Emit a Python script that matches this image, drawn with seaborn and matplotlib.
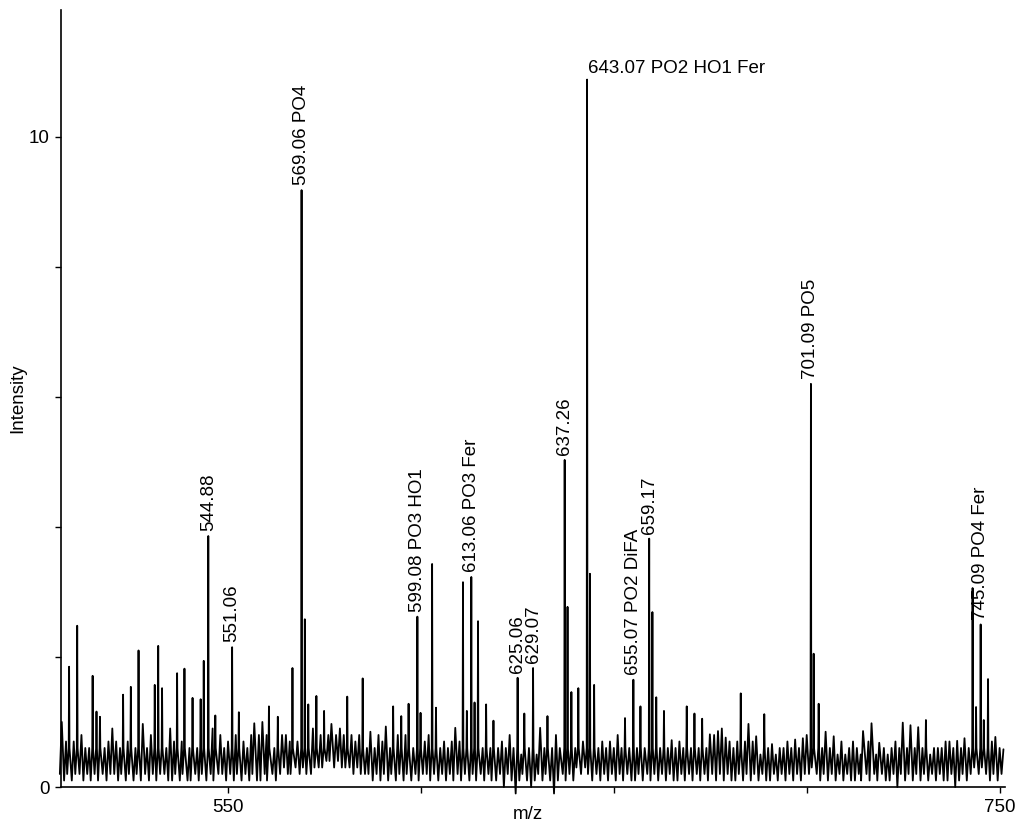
import numpy as np
import pandas as pd
import matplotlib
matplotlib.use('Agg')
import matplotlib.pyplot as plt
import seaborn as sns

# nominal masses covered by the trace
mass_first = 507
mass_last = 751

# baseline noise tops, one digit per nominal mass (value = digit / 10)
noise_tops = ("7787786678" "8679768786" "7868778697" "8786767879" "7867786768"
              "7868767887" "8788897878" "8898787876" "7687767868" "7686787767"
              "6787687876" "7686768675" "7685767686" "8786878776" "7676867676"
              "7686767656" "7676767667" "6767676767" "6566756676" "7678767676"
              "6575676567" "6576567676" "7676756667" "7676767676" "67665")

# valleys before each nominal mass (value = (digit - 1) / 10)
noise_floors = ("3232332323" "2323323232" "3232323322" "3232232323" "2332323232"
                "3223232343" "3434334445" "5454443433" "3232323232" "3232332323"
                "2323232323" "2322313202" "3212323202" "3232434323" "2323232322"
                "3232323232" "2323232323" "2323223232" "3232232323" "2323343232"
                "3232322323" "2323223132" "3232323232" "2312323434" "32323")

# unlabelled peaks that stand out of the noise
peak_mz = [506.9, 508.8, 510.9, 514.9, 515.9, 516.8, 522.8, 524.8, 526.8, 527.9,
           531.0, 531.9, 532.9, 536.8, 538.7, 540.8, 542.9, 543.7, 546.7, 552.8,
           556.8, 558.9, 560.6, 562.9, 566.7, 569.9, 570.8, 572.9, 574.9, 576.8,
           580.9, 584.9, 586.9, 590.9, 592.8, 594.9, 596.8, 599.9, 602.9, 603.9,
           608.9, 610.9, 611.9, 613.9, 614.8, 616.9, 618.8, 626.8, 630.9, 632.8,
           638.0, 639.0, 640.8, 643.8, 644.9, 652.9, 656.9, 660.0, 661.0, 663.0,
           665.0, 668.9, 670.9, 672.9, 674.9, 676.0, 677.0, 678.0, 679.0, 682.9,
           684.9, 686.9, 689.0, 691.0, 697.0, 699.0, 701.8, 703.1, 704.9, 707.0,
           714.6, 716.8, 718.8, 724.9, 726.9, 728.9, 730.9, 739.0, 740.9, 743.0,
           743.9, 745.9, 747.0, 748.0, 748.9, 751.0]
peak_int = [1.0, 1.85, 2.48, 1.71, 1.16, 1.08, 1.42, 1.54, 2.1, 0.97,
            1.57, 2.17, 1.52, 1.75, 1.82, 1.37, 1.35, 1.94, 1.1, 1.15,
            0.98, 1.0, 1.24, 1.08, 1.83, 2.58, 1.27, 1.4, 1.17, 0.97,
            1.39, 1.67, 0.85, 0.93, 1.24, 1.09, 1.28, 1.14, 3.43, 1.22,
            0.91, 3.15, 1.17, 1.3, 2.55, 1.27, 1.02, 1.13, 0.91, 1.09,
            2.77, 1.46, 1.52, 3.28, 1.57, 1.06, 1.24, 2.69, 1.38, 1.17,
            0.72, 1.24, 1.13, 1.05, 0.81, 0.8, 0.86, 0.9, 0.76, 1.44,
            0.97, 0.78, 1.12, 0.66, 0.73, 0.75, 2.05, 1.28, 0.85, 0.78,
            0.86, 0.98, 0.68, 0.99, 0.95, 0.92, 1.03, 0.71, 0.75, 3.06,
            1.23, 1.03, 1.66, 0.7, 0.77, 0.58]

# annotated peaks
label_mz = [544.88, 551.06, 569.06, 599.08, 613.06, 625.06, 629.07, 637.26,
            643.07, 655.07, 659.17, 701.09, 745.09]
label_int = [3.86, 2.15, 9.18, 2.62, 3.23, 1.68, 1.83, 5.03,
             10.88, 1.65, 3.82, 6.2, 2.5]
label_text = ['544.88', '551.06', '569.06 PO4', '599.08 PO3 HO1', '613.06 PO3 Fer',
              '625.06', '629.07', '637.26', '643.07 PO2 HO1 Fer', '655.07 PO2 DiFA',
              '659.17', '701.09 PO5', '745.09 PO4 Fer']

x_ticks = [550, 600, 650, 700, 750]
x_ticklabels = ['550', '', '', '', '750']
y_ticks = [0, 2, 4, 6, 8, 10]
y_ticklabels = ['0', '', '', '', '', '10']

# build the profile trace: one sharp peak per nominal mass
masses = np.arange(mass_first, mass_last + 1)
pos = masses.astype(float)
top = np.array([int(c) / 10 for c in noise_tops])
floor = np.array([(int(c) - 1) / 10 for c in noise_floors])
for mz, h in zip(peak_mz + label_mz, peak_int + label_int):
    i = int(round(mz)) - mass_first
    pos[i] = mz
    top[i] = h

xs, ys = [], []
for p, t, f in zip(pos, top, floor):
    if t > 1.0:
        # tall peaks rise almost vertically out of the noise
        xs += [p - 0.5, p - 0.1, p, p + 0.1]
        ys += [f, 0.6, t, 0.6]
    else:
        xs += [p - 0.5, p]
        ys += [f, t]
df = pd.DataFrame({'mz': xs, 'intensity': ys})

sns.set_theme(style='ticks')
plt.rcParams['font.family'] = ['Liberation Sans', 'DejaVu Sans']
plt.rcParams['font.size'] = 13.5
plt.rcParams['text.color'] = 'black'
plt.rcParams['axes.labelcolor'] = 'black'

fig = plt.figure(figsize=(10.19, 8.23), dpi=100)
ax = fig.add_axes([61 / 1019, 1 - 787 / 823, 944 / 1019, 777 / 823])

sns.lineplot(data=df, x='mz', y='intensity', estimator=None, sort=False,
             color='black', linewidth=1.3, ax=ax, clip_on=False)

for mz, h, txt in zip(label_mz, label_int, label_text):
    if h > 10:
        ax.annotate(txt, xy=(mz, h), xytext=(0.5, 2), textcoords='offset points',
                    ha='left', va='bottom', fontsize=13.5, color='black')
    else:
        ax.annotate(txt, xy=(mz, h), xytext=(0, 3.5), textcoords='offset points',
                    rotation=90, ha='center', va='bottom', fontsize=13.5, color='black')

ax.set_xlim(506.7, 751.4)
ax.set_ylim(0, 11.95)
ax.set_xticks(x_ticks)
ax.set_xticklabels(x_ticklabels)
ax.set_yticks(y_ticks)
ax.set_yticklabels(y_ticklabels)
ax.tick_params(axis='both', direction='out', length=4.3, width=1.0, color='black',
               labelsize=13.5, labelcolor='black', pad=4)
for side in ['left', 'bottom']:
    ax.spines[side].set_color('black')
    ax.spines[side].set_linewidth(1.2)
sns.despine(ax=ax)

ax.set_xlabel('m/z', fontsize=13.5, color='black')
ax.set_ylabel('Intensity', fontsize=13.5, color='black')
ax.xaxis.set_label_coords(0.4947, -0.036)
ax.xaxis.label.set_va('center')
ax.yaxis.set_label_coords(-0.0455, 0.5)
ax.yaxis.label.set_va('center')

fig.savefig('out.png', dpi=100, facecolor='white')
